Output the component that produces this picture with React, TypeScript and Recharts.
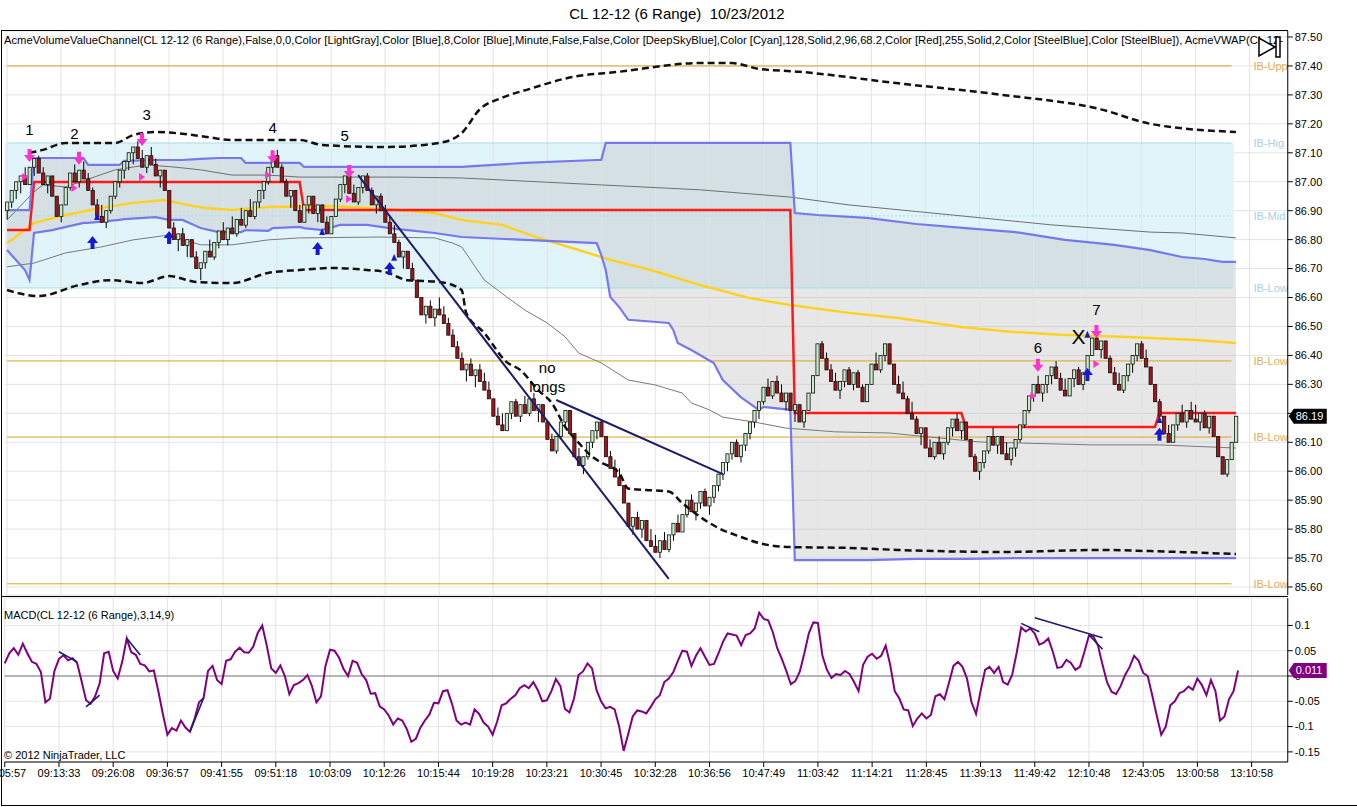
import React from 'react';
import {
  ComposedChart,
  Bar,
  Line,
  Area,
  XAxis,
  YAxis,
  CartesianGrid,
  ReferenceLine,
  ReferenceArea,
  ReferenceDot,
} from 'recharts';

// x axis labels, one every 12 range bars
const timeLabels = [
  '09:05:57', '09:13:33', '09:26:08', '09:36:57', '09:41:55', '09:51:18', '10:03:09', '10:12:26',
  '10:15:44', '10:19:28', '10:23:21', '10:30:45', '10:32:28', '10:36:56', '10:47:49', '11:03:42',
  '11:14:21', '11:28:45', '11:39:13', '11:49:42', '12:10:48', '12:43:05', '13:00:58', '13:10:58',
];
const priceTicks = [85.6, 85.7, 85.8, 85.9, 86.0, 86.1, 86.2, 86.3, 86.4, 86.5, 86.6, 86.7, 86.8, 86.9, 87.0, 87.1, 87.2, 87.3, 87.4, 87.5];
const macdTicks = [-0.15, -0.1, -0.05, 0, 0.05, 0.1];

// 6 range bars: close of every bar (open = previous close)
const firstOpen = 86.90;
const closes = [
  86.93, 86.97, 87.00, 87.02, 86.99, 87.05, 87.08, 87.03, 86.99, 87.02, 86.95, 86.88,
  86.92, 86.98, 87.03, 87.00, 87.04, 87.01, 86.97, 86.92, 86.88, 86.86, 86.90, 86.95,
  87.00, 87.04, 87.07, 87.10, 87.12, 87.08, 87.05, 87.09, 87.06, 87.02, 87.04, 86.97,
  86.84, 86.80, 86.82, 86.78, 86.80, 86.74, 86.70, 86.72, 86.76, 86.74, 86.79, 86.83,
  86.80, 86.84, 86.82, 86.87, 86.85, 86.90, 86.88, 86.93, 86.97, 87.00, 87.05, 87.09,
  87.05, 87.00, 86.95, 86.97, 86.90, 86.86, 86.92, 86.95, 86.89, 86.92, 86.86, 86.82,
  86.88, 86.94, 86.99, 87.02, 86.96, 86.93, 86.98, 87.02, 86.97, 86.92, 86.95, 86.90,
  86.86, 86.82, 86.79, 86.74, 86.76, 86.70, 86.66, 86.60, 86.54, 86.57, 86.53, 86.56,
  86.54, 86.51, 86.47, 86.43, 86.39, 86.35, 86.37, 86.33, 86.35, 86.31, 86.28, 86.25,
  86.19, 86.16, 86.14, 86.20, 86.24, 86.19, 86.23, 86.20, 86.25, 86.21, 86.23, 86.17,
  86.11, 86.07, 86.12, 86.17, 86.21, 86.13, 86.05, 86.02, 86.05, 86.10, 86.14, 86.17,
  86.12, 86.05, 86.01, 85.98, 85.95, 85.89, 85.81, 85.84, 85.80, 85.83, 85.76, 85.74,
  85.72, 85.76, 85.73, 85.78, 85.82, 85.79, 85.85, 85.90, 85.86, 85.89, 85.93, 85.88,
  85.91, 85.95, 85.99, 86.03, 86.06, 86.10, 86.05, 86.09, 86.13, 86.17, 86.21, 86.24,
  86.29, 86.26, 86.31, 86.27, 86.24, 86.27, 86.21, 86.23, 86.17, 86.21, 86.27, 86.33,
  86.44, 86.39, 86.35, 86.31, 86.28, 86.31, 86.35, 86.30, 86.34, 86.29, 86.24, 86.30,
  86.37, 86.35, 86.40, 86.44, 86.37, 86.30, 86.27, 86.25, 86.20, 86.18, 86.13, 86.15,
  86.08, 86.05, 86.10, 86.06, 86.10, 86.15, 86.18, 86.14, 86.17, 86.11, 86.05, 86.00,
  86.03, 86.07, 86.12, 86.09, 86.12, 86.06, 86.04, 86.08, 86.11, 86.16, 86.21, 86.26,
  86.30, 86.27, 86.30, 86.33, 86.36, 86.32, 86.28, 86.26, 86.32, 86.35, 86.30, 86.34,
  86.40, 86.46, 86.42, 86.45, 86.39, 86.34, 86.30, 86.28, 86.33, 86.37, 86.40, 86.44,
  86.39, 86.36, 86.30, 86.24, 86.19, 86.13, 86.10, 86.16, 86.20, 86.17, 86.21, 86.18,
  86.17, 86.20, 86.15, 86.19, 86.12, 86.05, 85.99, 86.04, 86.10, 86.19,
];

// MACD(3,14,9) per bar
const macd = [
  0.025, 0.045, 0.055, 0.042, 0.064, 0.045, 0.028, 0.024, 0.008, -0.052, -0.045, 0.010,
  0.034, 0.041, 0.031, 0.035, 0.026, -0.010, -0.048, -0.055, -0.040, -0.015, 0.045, 0.048,
  0.010, -0.005, 0.028, 0.074, 0.047, 0.042, 0.024, 0.021, 0.009, 0.011, -0.030, -0.075,
  -0.116, -0.103, -0.108, -0.088, -0.102, -0.110, -0.085, -0.052, -0.044, 0.010, 0.020, -0.008,
  -0.016, 0.030, 0.033, 0.048, 0.056, 0.047, 0.046, 0.058, 0.085, 0.100, 0.060, 0.015,
  0.006, 0.021, 0.000, -0.036, -0.018, -0.014, -0.008, 0.002, -0.020, -0.052, -0.040, 0.020,
  0.052, 0.050, 0.036, 0.014, 0.000, 0.030, 0.026, 0.004, -0.008, -0.035, -0.034, -0.060,
  -0.066, -0.078, -0.096, -0.084, -0.088, -0.105, -0.130, -0.124, -0.102, -0.088, -0.076, -0.053,
  -0.054, -0.030, -0.028, -0.055, -0.088, -0.096, -0.092, -0.096, -0.066, -0.075, -0.092, -0.100,
  -0.116, -0.090, -0.058, -0.054, -0.045, -0.038, -0.024, -0.018, -0.024, -0.012, -0.028, -0.050,
  -0.048, -0.030, -0.006, -0.020, -0.065, -0.072, -0.045, 0.002, 0.009, 0.025, 0.015, -0.028,
  -0.050, -0.064, -0.061, -0.066, -0.100, -0.148, -0.115, -0.080, -0.068, -0.070, -0.074, -0.061,
  -0.046, -0.038, -0.012, -0.005, 0.008, 0.030, 0.050, 0.048, 0.020, 0.040, 0.055, 0.038,
  0.022, 0.024, 0.045, 0.068, 0.084, 0.082, 0.080, 0.061, 0.081, 0.084, 0.094, 0.125,
  0.113, 0.110, 0.087, 0.055, 0.034, 0.010, -0.016, -0.010, 0.009, 0.045, 0.085, 0.106,
  0.105, 0.040, 0.012, -0.004, 0.004, 0.002, 0.010, 0.004, -0.012, -0.030, 0.022, 0.038,
  0.044, 0.034, 0.040, 0.060, 0.022, -0.030, -0.044, -0.066, -0.068, -0.099, -0.084, -0.074,
  -0.084, -0.077, -0.040, -0.036, -0.046, -0.014, 0.020, 0.028, 0.018, -0.005, -0.052, -0.075,
  -0.030, 0.012, 0.018, 0.006, 0.018, -0.012, -0.017, 0.002, 0.046, 0.096, 0.088, 0.094,
  0.084, 0.062, 0.066, 0.074, 0.048, 0.016, 0.018, 0.032, 0.026, 0.012, 0.018, 0.048,
  0.080, 0.078, 0.060, 0.022, -0.012, -0.031, -0.036, -0.020, 0.002, 0.018, 0.040, 0.030,
  0.006, 0.000, -0.038, -0.078, -0.116, -0.100, -0.058, -0.050, -0.034, -0.030, -0.021, -0.027,
  -0.005, -0.018, -0.038, -0.008, -0.030, -0.088, -0.080, -0.046, -0.030, 0.011,
];

// indicator lines read at [bar, price]
const upperBand = [
  [5, 87.10], [8, 87.11], [13, 87.134], [24, 87.134], [28, 87.161], [33, 87.172], [43, 87.158],
  [50, 87.144], [65, 87.144], [70, 87.127], [84, 87.12], [96, 87.134], [101, 87.168], [105, 87.25],
  [110, 87.29], [116, 87.32], [125, 87.36], [136, 87.38], [154, 87.41], [161, 87.41], [167, 87.39],
  [176, 87.38], [198, 87.34], [221, 87.30], [243, 87.25], [254, 87.20], [273, 87.172],
];
const lowerBand = [
  [0, 86.626], [7, 86.605], [16, 86.643], [23, 86.66], [30, 86.65], [36, 86.674], [42, 86.654],
  [50, 86.65], [58, 86.685], [65, 86.695], [72, 86.702], [80, 86.695], [84, 86.688], [89, 86.66],
  [96, 86.654], [101, 86.626], [102, 86.547], [106, 86.478], [111, 86.377], [114, 86.35], [118, 86.28],
  [121, 86.236], [124, 86.153], [127, 86.098], [130, 86.05], [132, 86.03], [136, 85.994], [138, 85.94],
  [142, 85.935], [147, 85.93], [150, 85.89], [154, 85.842], [158, 85.804], [163, 85.773], [167, 85.752],
  [174, 85.738], [187, 85.735], [198, 85.728], [221, 85.721], [243, 85.728], [254, 85.724], [273, 85.714],
];
// value area [bar, low, high]
const valueArea = [
  [0, 86.764, 86.902], [4, 86.695, 86.902], [5, 86.661, 86.902], [6, 86.823, 87.082], [10, 86.833, 87.082],
  [17, 86.858, 87.082], [18, 86.858, 87.058], [25, 86.868, 87.058], [26, 86.871, 87.072], [33, 86.878, 87.075],
  [36, 86.868, 87.075], [39, 86.868, 87.075], [43, 86.84, 87.079], [47, 86.826, 87.082], [52, 86.826, 87.082],
  [53, 86.833, 87.065], [58, 86.83, 87.065], [59, 86.84, 87.065], [65, 86.844, 87.065], [66, 86.84, 87.051],
  [70, 86.833, 87.051], [74, 86.851, 87.051], [80, 86.851, 87.051], [85, 86.84, 87.051], [89, 86.833, 87.051],
  [95, 86.823, 87.051], [101, 86.809, 87.051], [115, 86.799, 87.065], [131, 86.788, 87.075], [132, 86.747, 87.075],
  [133, 86.695, 87.134], [134, 86.602, 87.134], [136, 86.567, 87.134], [138, 86.523, 87.134], [147, 86.512, 87.134],
  [148, 86.488, 87.134], [149, 86.443, 87.134], [152, 86.419, 87.134], [157, 86.374, 87.134], [159, 86.315, 87.134],
  [163, 86.256, 87.134], [167, 86.212, 87.134], [168, 86.222, 87.134], [174, 86.212, 87.134], [175, 85.693, 86.892],
  [180, 85.693, 86.885], [191, 85.693, 86.875], [202, 85.697, 86.854], [213, 85.697, 86.84], [224, 85.70, 86.826],
  [235, 85.70, 86.799], [246, 85.70, 86.782], [254, 85.70, 86.764], [261, 85.70, 86.74], [266, 85.70, 86.733],
  [270, 85.70, 86.723], [273, 85.70, 86.723],
];
const poc = [
  [0, 86.833], [5, 86.833], [6, 86.999], [65, 86.999], [66, 86.902], [174, 86.902], [175, 86.201],
  [212, 86.201], [213, 86.153], [255, 86.153], [256, 86.201], [273, 86.201],
];
const vwap = [
  [0, 86.788], [1, 86.799], [6, 86.858], [13, 86.885], [21, 86.909], [28, 86.927], [35, 86.937],
  [40, 86.92], [44, 86.909], [50, 86.902], [58, 86.913], [72, 86.916], [84, 86.906], [95, 86.892],
  [101, 86.868], [110, 86.851], [118, 86.806], [127, 86.764], [134, 86.73], [143, 86.695], [154, 86.643],
  [165, 86.598], [174, 86.574], [187, 86.547], [198, 86.529], [212, 86.498], [221, 86.484], [234, 86.471],
  [249, 86.464], [264, 86.453], [273, 86.443],
];
const midLineA = [
  [0, 86.868], [6, 86.965], [8, 86.989], [13, 86.982], [24, 87.041], [31, 87.058], [37, 87.051],
  [43, 87.041], [50, 87.023], [58, 87.023], [65, 87.016], [87, 87.016], [101, 87.013], [110, 87.006],
  [132, 86.989], [154, 86.972], [174, 86.947], [187, 86.92], [210, 86.885], [232, 86.851], [254, 86.826],
  [261, 86.823], [266, 86.816], [273, 86.806],
];
const midLineB = [
  [0, 86.706], [6, 86.719], [13, 86.754], [21, 86.775], [28, 86.799], [36, 86.816], [43, 86.782],
  [50, 86.782], [58, 86.799], [65, 86.806], [83, 86.809], [95, 86.806], [99, 86.788], [101, 86.775],
  [106, 86.661], [111, 86.602], [115, 86.557], [120, 86.512], [124, 86.464], [127, 86.408], [132, 86.374],
  [138, 86.315], [144, 86.298], [150, 86.27], [152, 86.236], [156, 86.212], [159, 86.187], [163, 86.177],
  [166, 86.17], [173, 86.149], [184, 86.136], [196, 86.132], [216, 86.101], [241, 86.091], [256, 86.091],
  [273, 86.08],
];
const goldLevels = [87.40, 86.381, 86.118, 85.611];
const goldNames = ['IB-Upp', 'IB-Low', 'IB-Low', 'IB-Low'];
const ibLevels = [87.134, 86.882, 86.633];
const ibNames = ['IB-Hig', 'IB-Mid', 'IB-Low'];

// drawn trendlines [bar1, value1, bar2, value2]
const priceTrends = [[78, 87.023, 147, 85.628], [122, 86.246, 159, 85.99]];
const macdTrends = [
  [12, 0.048, 16, 0.028], [18, -0.061, 21, -0.038], [27, 0.0745, 30, 0.0415], [41, -0.11, 44, -0.044],
  [225, 0.104, 229, 0.0875], [228, 0.115, 243, 0.0757], [240, 0.081, 243, 0.053],
];

// markers [bar, price]
const sellArrows = [[5, 87.089], [16, 87.079], [30, 87.144], [59, 87.085], [76, 87.034], [229, 86.364], [242, 86.481]];
const buyArrows = [[19, 86.792], [36, 86.809], [69, 86.771], [85, 86.702], [240, 86.336], [256, 86.129]];
const sellTicks = [[4, 87.016], [15, 86.978], [30, 87.016], [58, 87.023], [76, 86.94], [228, 86.26], [242, 86.37]];
const buyTicks = [[20, 86.878], [70, 86.826], [86, 86.737], [240, 86.471], [256, 86.177]];
const notes = [
  [5, 87.179, '1'], [15, 87.168, '2'], [31, 87.231, '3'], [59, 87.189, '4'], [75, 87.158, '5'],
  [229, 86.426, '6'], [242, 86.557, '7'], [238, 86.464, 'X'], [120, 86.36, 'no'], [120, 86.294, 'longs'],
];

const SLOTS = 285;
const TICK_EVERY = 12;
const RANGE = 0.06;
const FONT = "'Liberation Sans', Arial, sans-serif";

const rows: any[] = Array.from({ length: SLOTS }, (_, k) => ({ k }));
closes.forEach((c, k) => {
  const o = k === 0 ? firstOpen : closes[k - 1];
  const up = c >= o;
  const hi = up ? c : Math.max(o, c + RANGE);
  const lo = up ? Math.min(o, c - RANGE) : c;
  Object.assign(rows[k], { open: o, close: c, range: [lo, hi], macd: macd[k] });
});
const put = (pts: any[], key: string) => pts.forEach(([k, v]) => { rows[k][key] = v; });
put(upperBand, 'upper');
put(lowerBand, 'lower');
put(poc, 'poc');
put(vwap, 'vwap');
put(midLineA, 'midA');
put(midLineB, 'midB');
valueArea.forEach(([k, lo, hi]) => {
  rows[k].va = [lo, hi];
  rows[k].vaLow = lo;
  rows[k].vaHigh = hi;
});
const tickIdx = timeLabels.map((_, i) => i * TICK_EVERY);
const lastBar = closes.length - 1;
const lastClose = closes[lastBar];

const Candle = (props: any) => {
  const { x, y, width, height, payload } = props;
  if (!payload || !payload.range) return null;
  const [lo, hi] = payload.range;
  const top = Math.min(y, y + height);
  const h = Math.abs(height);
  const per = h / (hi - lo);
  const cx = x + width / 2;
  const bTop = top + (hi - Math.max(payload.open, payload.close)) * per;
  const bBot = top + (hi - Math.min(payload.open, payload.close)) * per;
  const up = payload.close >= payload.open;
  return (
    <g>
      <line x1={cx} x2={cx} y1={top} y2={top + h} stroke="#000" strokeWidth={1} />
      <rect x={cx - 1.6} y={bTop} width={3.2} height={Math.max(bBot - bTop, 1)}
        fill={up ? '#c8ecc8' : '#a3141a'} stroke="#111" strokeWidth={0.8} />
    </g>
  );
};

const SellArrow = ({ cx, cy }: any) => (
  <path d={`M${cx - 2},${cy - 7} h4 v6 h3.5 l-5.5,7 l-5.5,-7 h3.5 z`} fill="#ff33cc" />
);
const BuyArrow = ({ cx, cy }: any) => (
  <path d={`M${cx - 2},${cy + 7} h4 v-6 h3.5 l-5.5,-7 l-5.5,7 h3.5 z`} fill="#1818d0" />
);
const SellTick = ({ cx, cy }: any) => (
  <path d={`M${cx - 3},${cy - 4} L${cx + 3},${cy} L${cx - 3},${cy + 4} z`} fill="#ff33cc" />
);
const BuyTick = ({ cx, cy }: any) => (
  <path d={`M${cx - 3},${cy + 3} L${cx},${cy - 4} L${cx + 3},${cy + 3} z`} fill="#1818d0" />
);
const Note = ({ cx, cy, text }: any) => (
  <text x={cx} y={cy} textAnchor="middle" dominantBaseline="central"
    fontSize={text === 'X' ? 21 : 15} fill="#000" fontFamily={FONT}>{text}</text>
);

const LevelLabel = ({ viewBox, text, color }: any) => {
  if (!viewBox) return null;
  return (
    <text x={viewBox.x + viewBox.width + 22} y={viewBox.y} dominantBaseline="central"
      fontSize={11} fill={color} fontFamily={FONT}>{text}</text>
  );
};

const Tag = ({ viewBox, text, fill, w }: any) => {
  if (!viewBox) return null;
  const x = viewBox.x + viewBox.width + 1;
  const y = viewBox.y;
  return (
    <g>
      <path d={`M${x},${y} L${x + 5},${y - 7.5} L${x + w},${y - 7.5} L${x + w},${y + 7.5} L${x + 5},${y + 7.5} z`} fill={fill} />
      <text x={x + 7} y={y} dominantBaseline="central" fontSize={11} fill="#fff" fontFamily={FONT}>{text}</text>
    </g>
  );
};

const axisTick = { fontSize: 11, fill: '#000', fontFamily: FONT };

export default function App() {
  return (
    <div style={{ position: 'relative', width: 1357, height: 807, background: '#fff', fontFamily: FONT }}>
      <style>{'body{margin:0}'}</style>
      <div style={{ position: 'absolute', left: 0, top: 0 }}>
        <ComposedChart width={1357} height={597} data={rows} margin={{ top: 31, right: 0, bottom: 2, left: 4.75 }}>
          <CartesianGrid vertical={false} stroke="#e3e3e3" />
          <XAxis dataKey="k" hide />
          <YAxis orientation="right" width={69.25} domain={[85.5724, 87.5207]} ticks={priceTicks} interval={0}
            tickFormatter={(v: number) => (Math.abs(v - lastClose) < 0.04 ? '' : v.toFixed(2))}
            axisLine={{ stroke: '#000' }} tickLine={{ stroke: '#000' }}
            tickSize={5} tick={axisTick} allowDataOverflow />
          {tickIdx.map((t) => <ReferenceLine key={'v' + t} x={t} stroke="#e3e3e3" />)}
          <ReferenceArea x1={0} x2={272} y1={ibLevels[2]} y2={ibLevels[0]} fill="#e1f4f9" fillOpacity={1} stroke="none" />
          <Area dataKey="va" connectNulls type="linear" stroke="none" fill="#bdbdbd" fillOpacity={0.36} isAnimationActive={false} />
          {goldLevels.map((v, i) => (
            <ReferenceLine key={'g' + i} segment={[{ x: 0, y: v }, { x: 272, y: v }]} stroke="#d9a520" strokeWidth={1}
              label={<LevelLabel text={goldNames[i]} color="#dcae5c" />} />
          ))}
          {ibLevels.map((v, i) => (
            <ReferenceLine key={'b' + i} segment={[{ x: 0, y: v }, { x: 272, y: v }]} stroke="#a9dbeb" strokeWidth={1}
              strokeDasharray={i === 1 ? '2 2' : undefined}
              label={<LevelLabel text={ibNames[i]} color="#a5d2e4" />} />
          ))}
          <Line dataKey="midA" connectNulls type="linear" stroke="#6f6f6f" strokeWidth={1} dot={false} isAnimationActive={false} />
          <Line dataKey="midB" connectNulls type="linear" stroke="#7a7a7a" strokeWidth={1} dot={false} isAnimationActive={false} />
          <Line dataKey="vwap" connectNulls type="linear" stroke="#ffd21f" strokeWidth={2.5} dot={false} isAnimationActive={false} />
          <Line dataKey="poc" connectNulls type="linear" stroke="#ff1a1a" strokeWidth={2.5} dot={false} isAnimationActive={false} />
          <Line dataKey="vaHigh" connectNulls type="linear" stroke="#7878ee" strokeWidth={2.2} dot={false} isAnimationActive={false} />
          <Line dataKey="vaLow" connectNulls type="linear" stroke="#7878ee" strokeWidth={2.2} dot={false} isAnimationActive={false} />
          <Bar dataKey="range" shape={<Candle />} isAnimationActive={false} zIndex={450} />
          <Line dataKey="upper" connectNulls type="monotone" stroke="#111" strokeWidth={2.5} strokeDasharray="7 4"
            dot={false} isAnimationActive={false} zIndex={460} />
          <Line dataKey="lower" connectNulls type="monotone" stroke="#111" strokeWidth={2.5} strokeDasharray="7 4"
            dot={false} isAnimationActive={false} zIndex={460} />
          {priceTrends.map(([k1, v1, k2, v2], i) => (
            <ReferenceLine key={'t' + i} segment={[{ x: k1, y: v1 }, { x: k2, y: v2 }]} stroke="#1c1c6c" strokeWidth={2} zIndex={470} />
          ))}
          {sellTicks.map(([k, v], i) => <ReferenceDot key={'st' + i} x={k} y={v} shape={(p: any) => <SellTick {...p} />} zIndex={480} />)}
          {buyTicks.map(([k, v], i) => <ReferenceDot key={'bt' + i} x={k} y={v} shape={(p: any) => <BuyTick {...p} />} zIndex={480} />)}
          {sellArrows.map(([k, v], i) => <ReferenceDot key={'sa' + i} x={k} y={v} shape={(p: any) => <SellArrow {...p} />} zIndex={480} />)}
          {buyArrows.map(([k, v], i) => <ReferenceDot key={'ba' + i} x={k} y={v} shape={(p: any) => <BuyArrow {...p} />} zIndex={480} />)}
          {notes.map(([k, v, t], i) => (
            <ReferenceDot key={'n' + i} x={k as number} y={v as number} shape={(p: any) => <Note {...p} text={t} />} zIndex={480} />
          ))}
          <ReferenceLine y={lastClose} stroke="none"
            label={<Tag text={lastClose.toFixed(2)} fill="#000" w={38} />} zIndex={2000} />
        </ComposedChart>
      </div>

      <div style={{ position: 'absolute', left: 0, top: 597 }}>
        <ComposedChart width={1357} height={210} data={rows} margin={{ top: 1, right: 0, bottom: 0, left: 4.75 }}>
          <CartesianGrid vertical={false} stroke="#e6e6e6" />
          <XAxis dataKey="k" interval={TICK_EVERY - 1} height={45}
            tickFormatter={(k: number) => timeLabels[k / TICK_EVERY] ?? ''}
            axisLine={{ stroke: '#000' }} tickLine={{ stroke: '#000' }} tickSize={5} tick={axisTick} />
          <YAxis orientation="right" width={69.25} domain={[-0.17, 0.1542]} ticks={macdTicks} interval={0}
            tickFormatter={(v: number) => String(v)} axisLine={{ stroke: '#000' }} tickLine={{ stroke: '#000' }}
            tickSize={5} tick={axisTick} allowDataOverflow />
          {tickIdx.map((t) => <ReferenceLine key={'mv' + t} x={t} stroke="#e3e3e3" />)}
          <ReferenceLine y={0} stroke="#a0a0a0" strokeWidth={1.5} />
          <Line dataKey="macd" type="linear" stroke="#800080" strokeWidth={2} dot={false} isAnimationActive={false} />
          {macdTrends.map(([k1, v1, k2, v2], i) => (
            <ReferenceLine key={'mt' + i} segment={[{ x: k1, y: v1 }, { x: k2, y: v2 }]} stroke="#1c1c6c" strokeWidth={1.6} zIndex={470} />
          ))}
          <ReferenceLine y={macd[lastBar]} stroke="none"
            label={<Tag text={macd[lastBar].toFixed(3)} fill="#800080" w={38} />} zIndex={2000} />
        </ComposedChart>
      </div>

      <svg width={1357} height={807} style={{ position: 'absolute', left: 0, top: 0, pointerEvents: 'none' }}>
        <text x={677} y={18.5} textAnchor="middle" fontSize={15} fill="#000" fontFamily={FONT} style={{ whiteSpace: 'pre' }}>
          CL 12-12 (6 Range)  10/23/2012
        </text>
        <text x={4} y={44} fontSize={11} fill="#000" fontFamily={FONT} textLength={1279} lengthAdjust="spacingAndGlyphs">
          AcmeVolumeValueChannel(CL 12-12 (6 Range),False,0,0,Color [LightGray],Color [Blue],8,Color [Blue],Minute,False,False,Color [DeepSkyBlue],Color [Cyan],128,Solid,2,96,68.2,Color [Red],255,Solid,2,Color [SteelBlue],Color [SteelBlue]), AcmeVWAP(CL 12-
        </text>
        <text x={4} y={619} fontSize={11} fill="#000" fontFamily={FONT}>MACD(CL 12-12 (6 Range),3,14,9)</text>
        <text x={4} y={759} fontSize={11} fill="#000" fontFamily={FONT}>© 2012 NinjaTrader, LLC</text>
        <path d="M1259,38 L1259,56 L1275,47 Z" fill="#fff" stroke="#000" strokeWidth={1.5} />
        <rect x={1276} y={37} width={4} height={20} fill="#fff" stroke="#000" strokeWidth={1.5} />
        <line x1={1} y1={30.5} x2={1288} y2={30.5} stroke="#000" />
        <line x1={1.5} y1={30} x2={1.5} y2={806} stroke="#000" />
        <line x1={1} y1={805.5} x2={1357} y2={805.5} stroke="#000" />
        <line x1={1} y1={596.5} x2={1288} y2={596.5} stroke="#000" />
      </svg>
    </div>
  );
}
